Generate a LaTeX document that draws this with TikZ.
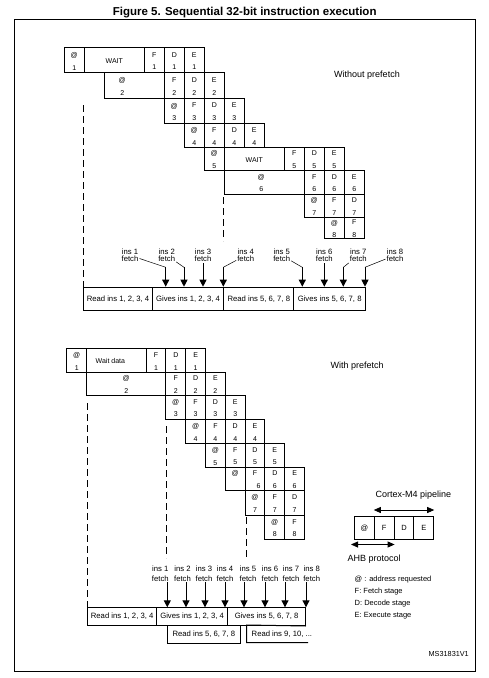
\documentclass[tikz,border=0pt]{standalone}
\usepackage{fontspec}
\setmainfont{Liberation Sans}
\usetikzlibrary{arrows.meta}

\tikzset{
  cell/.style={line width=1pt},
  celltext/.style={inner sep=0pt, align=center, font=\fontsize{7}{12.6}\selectfont},
  bar/.style={draw, line width=1pt, anchor=north west, inner sep=0pt, font=\fontsize{7.7}{9}\selectfont},
  fetchtext/.style={inner sep=1pt, align=center},
  leader/.style={line width=0.5pt},
  fetch/.style={line width=1pt, -{Triangle[width=7pt,length=7pt]}},
  dashline/.style={line width=1pt, dash pattern=on 7pt off 4pt},
  legbox/.style={draw, line width=1pt, anchor=north west, minimum width=19.8pt, minimum height=23pt, inner sep=0pt, font=\fontsize{7.5}{9}\selectfont},
  span/.style={line width=0.8pt, {Triangle[width=6pt,length=7pt]}-{Triangle[width=6pt,length=7pt]}},
}

% row edges (top to bottom) of the two charts
\def\urows{{47.7,72.7,98.3,123.3,147.3,170,194,217.3,238.3}}
\def\lrows{{348.3,372.3,395,419.3,443.3,467.3,490,515,539.3}}

\begin{document}
\begin{tikzpicture}[x=1pt,y=-1pt]
\useasboundingbox (0,0) rectangle (488,678);
\draw[line width=1pt] (14.3,19.3) rectangle (475.7,671);
\node[font=\fontsize{11.5}{13}\selectfont\bfseries] (title) at (244.7,12.3) {Figure 5. Sequential 32-bit instruction execution};

% without prefetch
\node[anchor=west, font=\fontsize{9}{11}\selectfont] (nopf) at (330.7,75) {Without prefetch};
\foreach \r/\c/\w/\t/\o in {1/0/1/{@\\1}/0, 1/1/3/WAIT/0, 1/4/1/{F\\1}/0, 1/5/1/{D\\1}/0, 1/6/1/{E\\1}/0,
    2/2/3/{@\\2}/-12, 2/5/1/{F\\2}/0, 2/6/1/{D\\2}/0, 2/7/1/{E\\2}/0,
    3/5/1/{@\\3}/0, 3/6/1/{F\\3}/0, 3/7/1/{D\\3}/0, 3/8/1/{E\\3}/0,
    4/6/1/{@\\4}/0, 4/7/1/{F\\4}/0, 4/8/1/{D\\4}/0, 4/9/1/{E\\4}/0,
    5/7/1/{@\\5}/0, 5/8/3/WAIT/0, 5/11/1/{F\\5}/0, 5/12/1/{D\\5}/0, 5/13/1/{E\\5}/0,
    6/8/4/{@\\6}/-3, 6/12/1/{F\\6}/0, 6/13/1/{D\\6}/0, 6/14/1/{E\\6}/0,
    7/12/1/{@\\7}/0, 7/13/1/{F\\7}/0, 7/14/1/{D\\7}/0,
    8/13/1/{@\\8}/0, 8/14/1/{F\\8}/0}{
  \pgfmathsetmacro\xa{64.3+20*\c}
  \pgfmathsetmacro\xb{64.3+20*(\c+\w)}
  \pgfmathsetmacro\ya{\urows[\r-1]}
  \pgfmathsetmacro\yb{\urows[\r]}
  \draw[cell] (\xa,\ya) rectangle (\xb,\yb);
  \node[celltext] (u\r-\c) at ({(\xa+\xb)/2+\o},{(\ya+\yb)/2+1}) {\t};
}
\node[bar, minimum width=68.4pt, minimum height=23.3pt] (ub1) at (83.3,286.7) {Read ins 1, 2, 3, 4};
\node[bar, minimum width=71.6pt, minimum height=23.3pt] (ub2) at (151.7,286.7) {Gives ins 1, 2, 3, 4};
\node[bar, minimum width=70pt, minimum height=23.3pt] (ub3) at (223.3,286.7) {Read ins 5, 6, 7, 8};
\node[bar, minimum width=71.7pt, minimum height=23.3pt] (ub4) at (293.3,286.7) {Gives ins 5, 6, 7, 8};
\draw[dashline] (83.3,105) -- (ub1.north west);
\draw[dashline] (223.8,197) -- (223.8,241);
\foreach \i/\lx/\ax in {1/130/165.7, 2/166.7/184, 3/203/203, 4/245.7/223.3,
    5/281.7/302.3, 6/324.3/324.3, 7/358.3/343.3, 8/395/365}{
  \node[fetchtext, font=\fontsize{7.7}{7.5}\selectfont] (uf\i) at (\lx,255.3) {ins \i\\fetch};
  \coordinate (uk\i) at (\ax,267.3);
  \coordinate (ua\i) at (\ax,286.7);
  \draw[leader] (uf\i) -- (uk\i);
  \draw[fetch] (uk\i) -- (ua\i);
}

% with prefetch
\node[anchor=west, font=\fontsize{9}{11}\selectfont] (pf) at (327,366) {With prefetch};
\foreach \r/\c/\w/\t/\o in {1/0/1/{@\\1}/0, 1/1/3/{Wait data}/-6, 1/4/1/{F\\1}/0, 1/5/1/{D\\1}/0, 1/6/1/{E\\1}/0,
    2/1/4/{@\\2}/0, 2/5/1/{F\\2}/0, 2/6/1/{D\\2}/0, 2/7/1/{E\\2}/0,
    3/5/1/{@\\3}/0, 3/6/1/{F\\3}/0, 3/7/1/{D\\3}/0, 3/8/1/{E\\3}/0,
    4/6/1/{@\\4}/0, 4/7/1/{F\\4}/0, 4/8/1/{D\\4}/0, 4/9/1/{E\\4}/0,
    5/7/1/{@\\5}/0, 5/8/1/{F\\5}/0, 5/9/1/{D\\5}/0, 5/10/1/{E\\5}/0,
    6/8/1/{@\\\phantom{6}}/0, 6/9/1/{F\\\hspace*{7pt}6}/0, 6/10/1/{D\\6}/0, 6/11/1/{E\\6}/0,
    7/9/1/{@\\7}/0, 7/10/1/{F\\7}/0, 7/11/1/{D\\7}/0,
    8/10/1/{@\\8}/0, 8/11/1/{F\\8}/0}{
  \pgfmathsetmacro\xa{66.9+19.8*\c}
  \pgfmathsetmacro\xb{66.9+19.8*(\c+\w)}
  \pgfmathsetmacro\ya{\lrows[\r-1]}
  \pgfmathsetmacro\yb{\lrows[\r]}
  \draw[cell] (\xa,\ya) rectangle (\xb,\yb);
  \node[celltext] (l\r-\c) at ({(\xa+\xb)/2+\o},{(\ya+\yb)/2+1}) {\t};
}
\node[bar, minimum width=68.7pt, minimum height=17.7pt] (lb1) at (87.3,607.3) {Read ins 1, 2, 3, 4};
\node[bar, minimum width=71.3pt, minimum height=17.7pt] (lb2) at (156,607.3) {Gives ins 1, 2, 3, 4};
\node[bar, minimum width=77.7pt, minimum height=17.7pt] (lb3) at (227.3,607.3) {Gives ins 5, 6, 7, 8};
\node[bar, minimum width=73.3pt, minimum height=17.7pt] (lb4) at (166.7,625) {Read ins 5, 6, 7, 8};
\draw[line width=1pt] (lb3.south east) -- (246.7,625) -- (246.7,642.7) -- (308,642.7);
\node[anchor=west, inner sep=0pt, font=\fontsize{7.7}{9}\selectfont] (lb5) at (251.5,633.8) {Read ins 9, 10, ...};
\draw[dashline] (87.3,403) -- (lb1.north west);
\draw[dashline] (166,426) -- (166,558);
\draw[dashline] (246,517) -- (246,558);
\foreach \i/\lx/\ax in {1/160.3/167.3, 2/182.5/186, 3/204/205, 4/225/225,
    5/248/244, 6/270/265, 7/291/285, 8/311.7/306}{
  \node[fetchtext, font=\fontsize{7.7}{9.3}\selectfont] (lf\i) at (\lx,573.7) {ins \i\\fetch};
  \coordinate (la\i) at (\ax,607.3);
  \draw[fetch] (lf\i.south -| la\i) -- (la\i);
}

% legend
\node[font=\fontsize{9}{11}\selectfont] (pipe) at (413.3,495) {Cortex-M4 pipeline};
\foreach \t [count=\k] in {@,F,D,E}
  \node[legbox] (lg\k) at ({354+19.8*(\k-1)},516) {\t};
\draw[span] ([yshift=6pt]lg2.north west) -- ([yshift=6pt]lg4.north east);
\draw[span] ([xshift=-3pt,yshift=-4.5pt]lg1.south west) -- ([yshift=-4.5pt]lg2.south east);
\node[anchor=west, inner sep=0pt, font=\fontsize{9}{11}\selectfont] (ahb) at (347.5,559.3) {AHB protocol};
\node[anchor=west, inner sep=0pt, align=left, font=\fontsize{7.5}{11.7}\selectfont] (key) at (354.5,597.6)
  {@ : address requested\\F: Fetch stage\\D: Decode stage\\E: Execute stage};
\node[anchor=east, inner sep=0pt, font=\fontsize{7.3}{9}\selectfont] (code) at (469,654.3) {MS31831V1};
\end{tikzpicture}
\end{document}
